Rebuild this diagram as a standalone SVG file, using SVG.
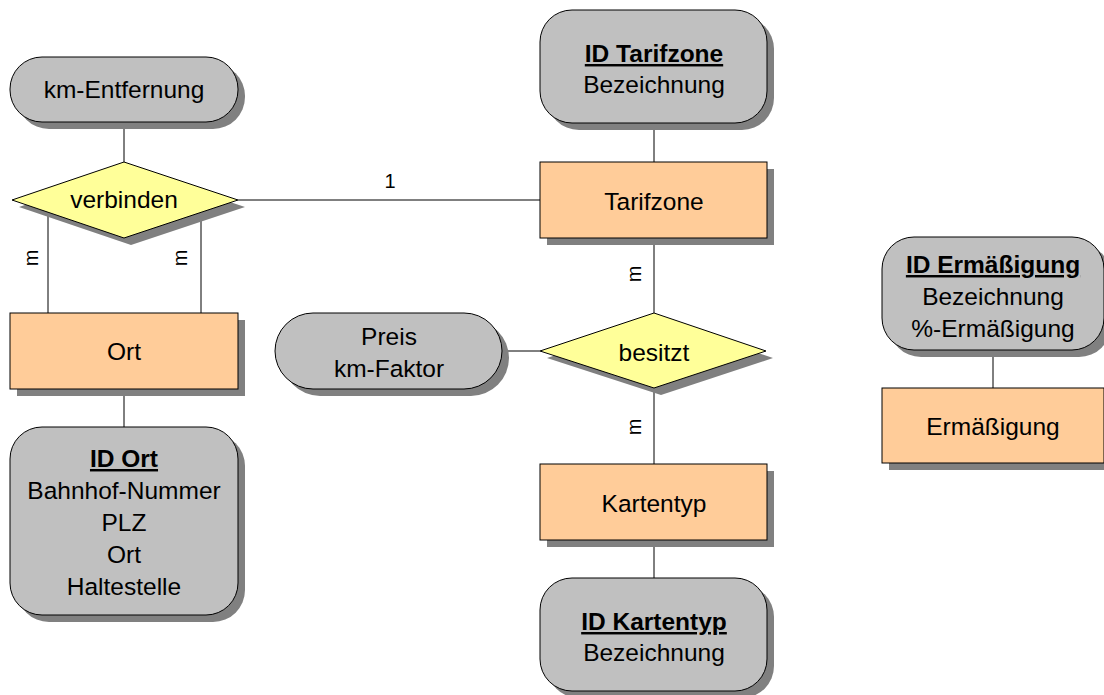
<svg xmlns="http://www.w3.org/2000/svg" width="1104" height="695" viewBox="0 0 1104 695">
<style>
.sh{fill:#808080;stroke:none}
.attr{fill:#C0C0C0;stroke:#000;stroke-width:1}
.ent{fill:#FFCC99;stroke:#000;stroke-width:1}
.rel{fill:#FFFF99;stroke:#000;stroke-width:1}
text{font-family:"Liberation Sans",Arial,sans-serif;font-size:24.5px;fill:#000;text-anchor:middle}
.k{font-weight:bold;text-decoration:underline}
.card{font-size:20px}
.conn line{stroke:#000;stroke-width:1}
</style>
<rect width="1104" height="695" fill="#fff"/>
<g class="conn">
<line x1="124" y1="122" x2="124" y2="162"/>
<line x1="238" y1="200" x2="540" y2="200"/>
<line x1="48" y1="216" x2="48" y2="313"/>
<line x1="201" y1="216" x2="201" y2="313"/>
<line x1="124" y1="389" x2="124" y2="427"/>
<line x1="654" y1="123" x2="654" y2="162"/>
<line x1="654" y1="238" x2="654" y2="313"/>
<line x1="502" y1="351" x2="540" y2="351"/>
<line x1="654" y1="388" x2="654" y2="464"/>
<line x1="654" y1="540" x2="654" y2="578"/>
<line x1="993" y1="350" x2="993" y2="388"/>
<text class="card" x="390" y="188">1</text>
<text class="card" transform="translate(38,258) rotate(-90)">m</text>
<text class="card" transform="translate(187,258) rotate(-90)">m</text>
<text class="card" transform="translate(641,274) rotate(-90)">m</text>
<text class="card" transform="translate(641,427) rotate(-90)">m</text>
</g>
<g id="attr-km">
<rect class="sh" x="17" y="64" width="228" height="65" rx="32"/>
<rect class="attr" x="10" y="57" width="228" height="65" rx="32"/>
<text x="124" y="98">km-Entfernung</text>
</g>
<g id="rel-verbinden">
<polygon class="sh" points="19,207 131,169 245,207 131,245"/>
<polygon class="rel" points="12,200 124,162 238,200 124,238"/>
<text x="124" y="208">verbinden</text>
</g>
<g id="ent-ort">
<rect class="sh" x="17" y="320" width="228" height="76"/>
<rect class="ent" x="10" y="313" width="228" height="76"/>
<text x="124" y="360">Ort</text>
</g>
<g id="attr-ort">
<rect class="sh" x="17" y="434" width="228" height="188" rx="32"/>
<rect class="attr" x="10" y="427" width="228" height="188" rx="32"/>
<text x="124" y="467" class="k">ID Ort</text>
<text x="124" y="499">Bahnhof-Nummer</text>
<text x="124" y="531">PLZ</text>
<text x="124" y="563">Ort</text>
<text x="124" y="595">Haltestelle</text>
</g>
<g id="attr-tarifzone">
<rect class="sh" x="547" y="17" width="227" height="113" rx="32"/>
<rect class="attr" x="540" y="10" width="227" height="113" rx="32"/>
<text x="654" y="62" class="k">ID Tarifzone</text>
<text x="654" y="93">Bezeichnung</text>
</g>
<g id="ent-tarifzone">
<rect class="sh" x="547" y="169" width="227" height="76"/>
<rect class="ent" x="540" y="162" width="227" height="76"/>
<text x="654" y="210">Tarifzone</text>
</g>
<g id="attr-preis">
<rect class="sh" x="282" y="320" width="227" height="76" rx="38"/>
<rect class="attr" x="275" y="313" width="227" height="76" rx="38"/>
<text x="389" y="345">Preis</text>
<text x="389" y="377">km-Faktor</text>
</g>
<g id="rel-besitzt">
<polygon class="sh" points="547,358 661,320 773,358 661,395"/>
<polygon class="rel" points="540,351 654,313 766,351 654,388"/>
<text x="654" y="361">besitzt</text>
</g>
<g id="ent-kartentyp">
<rect class="sh" x="547" y="471" width="227" height="76"/>
<rect class="ent" x="540" y="464" width="227" height="76"/>
<text x="654" y="512">Kartentyp</text>
</g>
<g id="attr-kartentyp">
<rect class="sh" x="547" y="585" width="227" height="113" rx="32"/>
<rect class="attr" x="540" y="578" width="227" height="113" rx="32"/>
<text x="654" y="630" class="k">ID Kartentyp</text>
<text x="654" y="661">Bezeichnung</text>
</g>
<g id="attr-ermaessigung">
<rect class="sh" x="889" y="244" width="222" height="113" rx="32"/>
<rect class="attr" x="882" y="237" width="222" height="113" rx="32"/>
<text x="993" y="273" class="k">ID Ermäßigung</text>
<text x="993" y="305">Bezeichnung</text>
<text x="993" y="337">%-Ermäßigung</text>
</g>
<g id="ent-ermaessigung">
<rect class="sh" x="889" y="395" width="222" height="75"/>
<rect class="ent" x="882" y="388" width="222" height="75"/>
<text x="993" y="435">Ermäßigung</text>
</g>
</svg>
